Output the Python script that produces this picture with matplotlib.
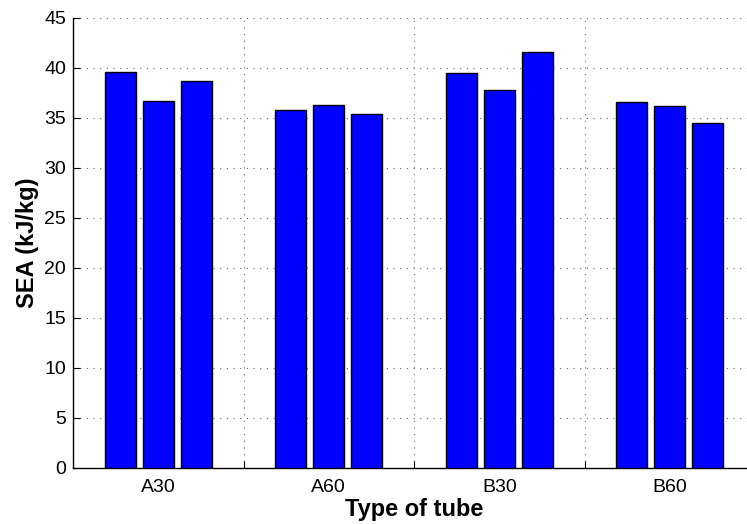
import numpy as np
from matplotlib import pyplot as plt

plt.rcParams['font.family'] = ['Liberation Sans', 'DejaVu Sans']

tubes = ['A30', 'A60', 'B30', 'B60']
# three specimens per tube type
sea_1 = [39.6, 35.8, 39.5, 36.6]
sea_2 = [36.7, 36.3, 37.8, 36.2]
sea_3 = [38.7, 35.4, 41.6, 34.5]

fig = plt.figure(figsize=(7.47, 5.24), dpi=100)
# axes run past the right edge, like the cropped original
ax = fig.add_axes([73/747, 1 - 467.5/524, 682/747, 450/524])

x = np.arange(1, len(tubes) + 1)
off = 0.223
w = 0.182
for k, vals in enumerate([sea_1, sea_2, sea_3]):
    ax.bar(x + (k - 1)*off, vals, w, color='#0000ff', edgecolor='black', linewidth=1.0, zorder=3)

ax.set_xlim(0.5, 4.5)
ax.set_ylim(0, 45)
ax.set_yticks(np.arange(0, 46, 5))
ax.set_xticks([1.5, 2.5, 3.5])
ax.set_xticklabels([])
ax.set_xticks(x, minor=True)
ax.set_xticklabels(tubes, minor=True)
ax.tick_params(axis='x', which='minor', length=0, labelsize=14, pad=8)
ax.tick_params(axis='x', which='major', length=5, direction='in', width=0.8)
ax.tick_params(axis='y', length=5, direction='in', labelsize=14, width=0.8, pad=5)

ax.grid(True, which='major', linestyle=(0, (1, 5)), color='#666666', linewidth=0.8, zorder=0)
for s in ['top', 'right']:
    ax.spines[s].set_visible(False)
ax.spines['left'].set_linewidth(1.0)
ax.spines['bottom'].set_linewidth(1.0)

ax.set_xlabel('Type of tube', fontsize=17, fontweight='bold', labelpad=2)
ax.set_ylabel('SEA (kJ/kg)', fontsize=17, fontweight='bold', labelpad=4)

plt.savefig('out.png', dpi=100)
